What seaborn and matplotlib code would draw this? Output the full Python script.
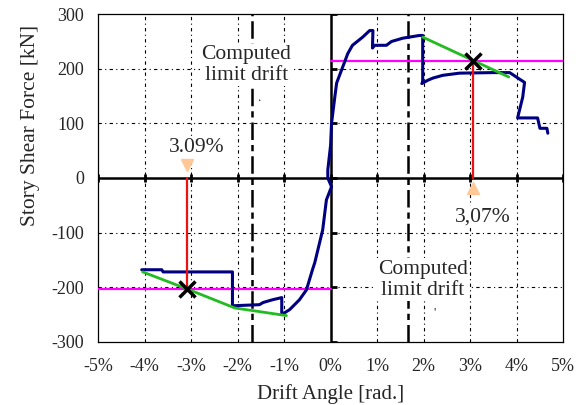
"""
Story shear force vs. drift angle, with computed limit drift and
the 80%-of-peak drift points marked on both loading directions.
"""

import matplotlib.pyplot as plt
import numpy as np
import pandas as pd
import seaborn as sns

# measured envelope (drift %, shear kN), traced from the test record
drift = [-4.06, -3.63, -3.60, -2.11, -2.11, -1.53, -1.45, -1.25, -1.05, -1.05,
         -0.88, -0.67, -0.52, -0.39, -0.34, -0.17, -0.09, 0.02, -0.06, -0.06,
         0.00, 0.02, 0.09, 0.13, 0.37, 0.47, 0.69, 0.84, 0.91, 0.90,
         0.95, 1.20, 1.31, 1.55, 1.91, 1.98, 1.98, 1.96, 2.09, 2.20,
         2.41, 2.77, 3.48, 3.85, 4.17, 4.13, 4.02, 4.45, 4.50, 4.65, 4.67]
shear = [-168, -168, -172, -172, -234, -232, -228, -223, -219, -250,
         -241, -223, -205, -168, -155, -95, -40, -16, 0, 15,
         60, 100, 148, 174, 228, 243, 258, 270, 270, 238,
         243, 243, 250, 256, 261, 261, 175, 173, 179, 183,
         188, 192, 193, 193, 175, 148, 110, 110, 91, 91, 82]

# softening branches (green)
pos_branch_x = [1.98, 3.07, 3.83]
pos_branch_y = [258, 215, 185]
neg_branch_x = [-4.04, -3.09, -2.06, -0.95]
neg_branch_y = [-172, -203, -238, -252]

# limit values
limit_drift = [-1.70, 1.66]
pos_limit_shear = 215
neg_limit_shear = -203
pos_limit_drift = 3.07
neg_limit_drift = -3.09

xticks = [-5, -4, -3, -2, -1, 0, 1, 2, 3, 4, 5]
yticks = [-300, -200, -100, 0, 100, 200, 300]


def main():
    sns.set_style("white")
    plt.rcParams['font.family'] = ['Liberation Serif', 'DejaVu Serif']
    plt.rcParams['axes.unicode_minus'] = False

    fig = plt.figure(figsize=(5.8, 4.05), dpi=100)
    ax = fig.add_axes([0.169, 0.156, 0.802, 0.809])

    ax.set_xlim(-5, 5)
    ax.set_ylim(-300, 300)

    # grid
    grid_ls = (0, (3, 3, 1, 3))
    for x in xticks[1:-1]:
        if x != 0:
            ax.axvline(x, color='k', lw=0.8, ls=grid_ls, zorder=1)
    for y in yticks[1:-1]:
        if y != 0:
            ax.axhline(y, color='k', lw=0.8, ls=grid_ls, zorder=1)

    # zero axes with their ticks
    ax.axhline(0, color='k', lw=1.8, zorder=2)
    ax.axvline(0, color='k', lw=1.8, zorder=2)
    ax.plot(xticks, [0] * len(xticks), ls='none', marker='|', ms=6,
            mew=2, color='k', zorder=2)
    ax.plot([0] * len(yticks), yticks, ls='none', marker=1, ms=4,
            mew=2, color='k', zorder=2)

    # computed limit drift
    for x in limit_drift:
        ax.axvline(x, color='k', lw=1.8, ls=(0, (7, 2, 2.5, 2)), zorder=2)

    # limit shear lines
    ax.plot([-5, 0], [neg_limit_shear] * 2, color='#FF00FF', lw=1.6, zorder=3)
    ax.plot([0, 5], [pos_limit_shear] * 2, color='#FF00FF', lw=1.6, zorder=3)

    df = pd.DataFrame({'drift': drift, 'shear': shear})
    sns.lineplot(data=df, x='drift', y='shear', sort=False, estimator=None,
                 color='#000080', lw=2.2, ax=ax, zorder=4)

    sns.lineplot(x=pos_branch_x, y=pos_branch_y, sort=False, estimator=None,
                 color='#22BB22', lw=2.0, ax=ax, zorder=5)
    sns.lineplot(x=neg_branch_x, y=neg_branch_y, sort=False, estimator=None,
                 color='#22BB22', lw=2.0, ax=ax, zorder=5)

    # drift at limit shear
    ax.plot([pos_limit_drift] * 2, [pos_limit_shear, 0], color='#EE1111',
            lw=1.6, zorder=5)
    ax.plot([neg_limit_drift] * 2, [neg_limit_shear, 0], color='#EE1111',
            lw=1.6, zorder=5)
    ax.plot(pos_limit_drift, -18, marker='^', ms=9, color='#FFC896',
            mec='#FFC896', zorder=6)
    ax.plot(neg_limit_drift, 24, marker='v', ms=9, color='#FFC896',
            mec='#FFC896', zorder=6)
    ax.plot([pos_limit_drift, neg_limit_drift],
            [pos_limit_shear, neg_limit_shear], ls='none', marker='x',
            ms=12, mew=2.5, color='k', zorder=7)

    box = dict(facecolor='white', edgecolor='none', pad=1)
    ax.text(-1.81, 207, 'Computed\nlimit drift', ha='center', va='center',
            fontsize=15.5, linespacing=1.15, bbox=box, zorder=3)
    ax.text(1.98, -186, 'Computed\nlimit drift', ha='center', va='center',
            fontsize=15.5, linespacing=1.15, bbox=box, zorder=3)
    ax.text(-2.88, 55, '3.09%', ha='center', va='center', fontsize=15.5,
            bbox=box, zorder=3)
    ax.text(3.27, -71, '3,07%', ha='center', va='center', fontsize=15.5,
            bbox=box, zorder=3)
    ax.text(-1.55, 146, '.', ha='center', va='center', fontsize=9)
    ax.text(2.24, -247, "'", ha='center', va='center', fontsize=9)

    ax.set_xticks(xticks)
    ax.set_xticklabels([f'{v}%' for v in xticks])
    ax.set_yticks(yticks)
    ax.tick_params(length=0, labelsize=13)
    ax.tick_params(axis='x', pad=12)
    ax.tick_params(axis='y', pad=10)
    for s in ax.spines.values():
        s.set_color('k')
        s.set_linewidth(0.9)

    ax.set_xlabel('Drift Angle [rad.]', fontsize=15, labelpad=6)
    ax.set_ylabel('Story Shear Force [kN]', fontsize=15.5, labelpad=6)
    ax.yaxis.set_label_coords(-0.125, 0.66)

    fig.savefig('out.png', dpi=100)
    plt.close(fig)


if __name__ == "__main__":
    main()
